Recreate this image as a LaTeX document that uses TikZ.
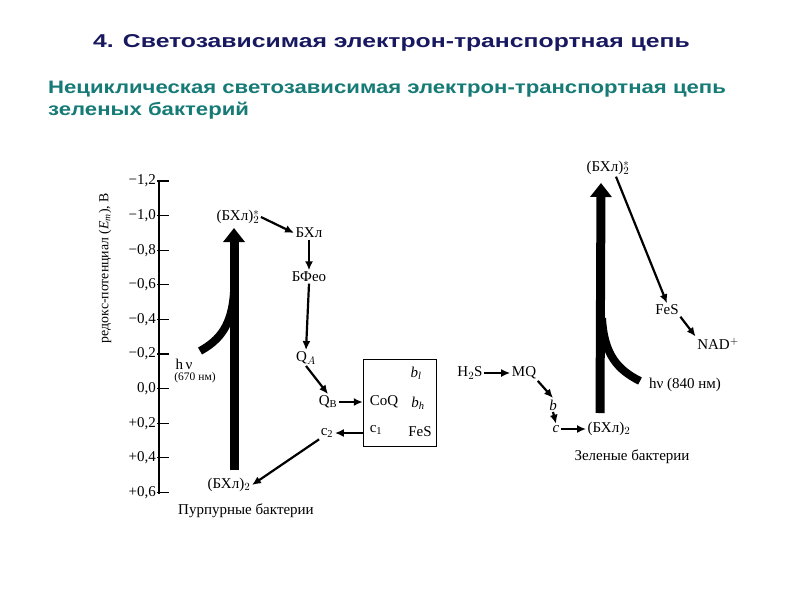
\documentclass[tikz,border=0pt]{standalone}
\usepackage{fontspec}
\setmainfont{Liberation Serif}
\newfontfamily\headfont{Liberation Sans}
\usepackage{graphicx}
\usetikzlibrary{arrows.meta, positioning}
\definecolor{titlenavy}{RGB}{24, 24, 96}
\definecolor{subteal}{RGB}{22, 122, 118}

\begin{document}
\begin{tikzpicture}[x=1pt, y=-1pt,
  lbl/.style={inner sep=1.5pt, font=\fontsize{15}{17}\selectfont},
  small/.style={inner sep=1pt, font=\fontsize{11.5}{13}\selectfont},
  tick/.style={anchor=east, inner sep=1pt, font=\fontsize{15}{17}\selectfont},
  arr/.style={line width=2.2pt, -{Latex[length=9pt, width=8pt]}},
  beam/.style={line width=9pt, -{Triangle[length=14pt, width=21pt]}},
  limb/.style={line width=8pt},
  head/.style={anchor=base west, inner sep=0pt}]
  \useasboundingbox[fill=white] (0,0) rectangle (794,595);

  % headings
  \node[head, text=titlenavy, font=\headfont\bfseries\fontsize{18.6}{20}\selectfont] (title) at (93,47)
    {\scalebox{1.33}[1]{4. Светозависимая электрон-транспортная цепь}};
  \node[head, text=subteal, font=\headfont\bfseries\fontsize{18}{19}\selectfont] (subtitle) at (48,93)
    {\scalebox{1.23}[1]{Нециклическая светозависимая электрон-транспортная цепь}};
  \node[head, text=subteal, font=\headfont\bfseries\fontsize{18}{19}\selectfont] (subtitle2) at (48,115)
    {\scalebox{1.23}[1]{зеленых бактерий}};

  % potential axis
  \draw[line width=1.6pt] (159,180) -- (159,494);
  \foreach \lab [count=\i from 0] in {{−1,2},{−1,0},{−0,8},{−0,6},{−0,4},{−0,2},{0,0},{+0,2},{+0,4},{+0,6}}{
    \draw[line width=1.2pt] (157,{181+34.6*\i}) -- (169,{181+34.6*\i});
    \node[tick] at (157,{181+34.6*\i}) {\lab};
  }
  \node[rotate=90, font=\fontsize{13.8}{15}\selectfont] (axlabel) at (105,268)
    {редокс-потенциал (\textit{E}\textsubscript{\textit{m}}), В};

  % purple bacteria
  \coordinate (pbase) at (234,470);
  \coordinate (ptip) at (234,228);
  \coordinate (pjoin) at (234,292);
  \coordinate (plight) at (200,351);
  \draw[limb] (pjoin) .. controls (232,325) and (220,340) .. (plight);
  \draw[beam] (pbase) -- (ptip);

  \node[lbl] (ptop) at (238,217) {(БХл)$^{*}_{2}$};
  \node[lbl] (bchl) at (309,233) {БХл};
  \node[lbl] (bfeo) at (309,277) {БФео};
  \node[lbl] (qa) at (306,358) {Q$_{A}$};
  \node[lbl] (qb) at (328,402) {Q$_{\mathrm{B}}$};
  \node[lbl] (ctwo) at (327,433) {c\textsubscript{2}};
  \node[lbl] (pbot) at (229,485) {(БХл)$_{2}$};
  \node[lbl] (hnu) at (184,364) {h\,ν};
  \node[small] (nmp) at (195,378) {(670 нм)};
  \node[lbl] (purple) at (246,511) {Пурпурные бактерии};

  \node[draw, line width=1.4pt, minimum width=73pt, minimum height=87pt] (cplx) at (400,403) {};
  \node[lbl] (bl) at (416,373) {\textit{b}\textsubscript{\textit{l}}};
  \node[lbl] (coq) at (384,402) {CoQ};
  \node[lbl] (bh) at (418,403) {\textit{b}\textsubscript{\textit{h}}};
  \node[lbl] (cone) at (376,430) {c\textsubscript{1}};
  \node[lbl] (fesl) at (420,432) {FeS};

  \draw[arr] (ptop.east) -- (bchl.west);
  \draw[arr] (bchl.south) -- (bfeo.north);
  \draw[arr] (bfeo.south) -- (qa.north);
  \draw[arr] (qa.south) -- (qb.north);
  \draw[arr] (qb.east) -- (qb.east -| cplx.west);
  \draw[arr] (cplx.west |- ctwo) -- (ctwo.east);
  \draw[arr] (ctwo.south west) -- (pbot.east);

  % green bacteria
  \coordinate (gbase) at (600,413);
  \coordinate (gtip) at (601,183);
  \coordinate (gjoin) at (602,318);
  \coordinate (glight) at (640,381);
  \draw[limb] (gjoin) .. controls (604,355) and (618,370) .. (glight);
  \draw[beam] (gbase) -- (gtip);

  \node[lbl] (gtop) at (608,168) {(БХл)$^{*}_{2}$};
  \node[lbl] (fes) at (667,310) {FeS};
  \node[lbl] (nad) at (718,344) {NAD$^{+}$};
  \node[lbl] (hnug) at (685,385) {hν (840 нм)};
  \node[lbl] (hs) at (470,373) {H$_{2}$S};
  \node[lbl] (mq) at (524,373) {MQ};
  \node[lbl] (bb) at (553,405) {\textit{b}};
  \node[lbl] (cc) at (556,429) {\textit{c}};
  \node[lbl] (gbot) at (609,429) {(БХл)$_{2}$};
  \node[lbl] (green) at (632,457) {Зеленые бактерии};

  \draw[arr] ([xshift=8pt]gtop.south) -- (fes.north);
  \draw[arr] (fes.south east) -- (nad.north west);
  \draw[arr] (hs.east) -- (mq.west);
  \draw[arr] (mq.south east) -- (bb.north);
  \draw[arr] (bb.south) -- (cc.north);
  \draw[arr] (cc.east) -- (gbot.west);
\end{tikzpicture}
\end{document}
